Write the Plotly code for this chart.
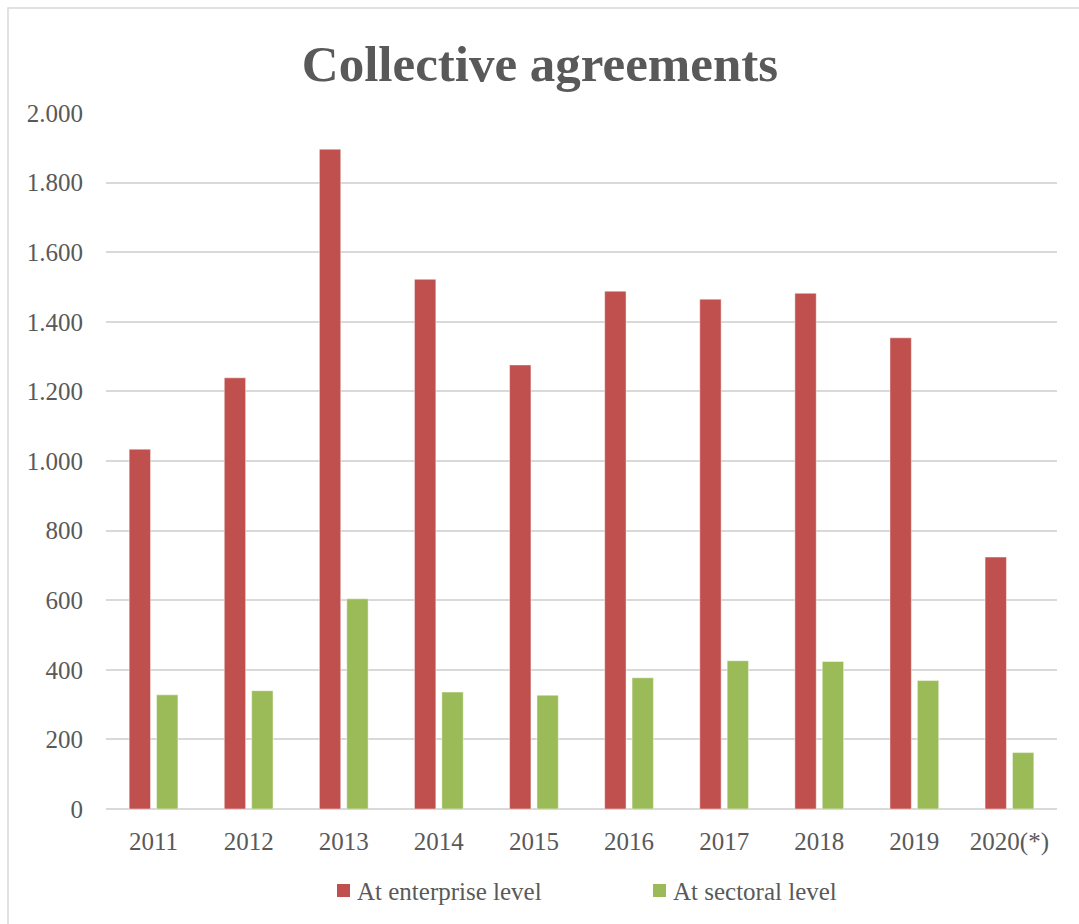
import plotly.graph_objects as go

# Collective agreements registered per year
years = ["2011", "2012", "2013", "2014", "2015", "2016", "2017", "2018", "2019", "2020(*)"]
enterprise_level = [1034, 1239, 1896, 1522, 1276, 1488, 1465, 1482, 1354, 724]
sectoral_level = [328, 340, 604, 336, 327, 377, 426, 424, 369, 162]
y_ticks = [0, 200, 400, 600, 800, 1000, 1200, 1400, 1600, 1800, 2000]
series_names = ["At enterprise level", "At sectoral level"]

RED = "#C0504D"
GREEN = "#9BBB59"
TEXT = "#595959"
GRID = "#D9D9D9"
FONT = "Liberation Serif, serif"

W, H = 1079, 924
L, R, T, B = 106, 22, 113, 115
plot_w = W - L - R
plot_h = H - T - B


def px_x(px):
    return (px - L) / plot_w


def px_y(py):
    return (H - B - py) / plot_h


fig = go.Figure()
for name, vals, col in zip(series_names, [enterprise_level, sectoral_level], [RED, GREEN]):
    fig.add_trace(go.Bar(
        x=years, y=vals, name=name, showlegend=False,
        marker=dict(color=col, line=dict(color="rgba(255,255,255,0.45)", width=1)),
    ))

# Legend drawn below the axis: a square swatch followed closely by its label
legend_x = [337, 653]
shapes = [dict(
    type="rect", xref="paper", yref="paper",
    x0=px_x(8), x1=px_x(W + 20), y0=px_y(H + 20), y1=px_y(8),
    line=dict(color="#D9D9D9", width=1.5), fillcolor="rgba(0,0,0,0)",
    layer="below",
)]
annotations = []
for name, col, lx in zip(series_names, [RED, GREEN], legend_x):
    shapes.append(dict(
        type="rect", xref="paper", yref="paper",
        x0=px_x(lx), x1=px_x(lx + 13), y0=px_y(897), y1=px_y(884),
        line=dict(width=0), fillcolor=col,
    ))
    annotations.append(dict(
        text=name, xref="paper", yref="paper",
        x=px_x(lx + 18), xanchor="left", y=px_y(891), yanchor="middle",
        showarrow=False, font=dict(family=FONT, size=25, color=TEXT),
    ))

fig.update_layout(
    width=W, height=H,
    margin=dict(l=L, r=R, t=T, b=B),
    paper_bgcolor="white", plot_bgcolor="white",
    barmode="group", bargap=0.424, bargroupgap=0.22,
    separators=",.",
    font=dict(family=FONT, size=25, color=TEXT),
    showlegend=False,
    title=dict(
        text="<b>Collective agreements</b>",
        font=dict(family=FONT, size=51, color=TEXT),
        xref="paper", x=px_x(540), xanchor="center",
        yref="container", y=1 - 63 / H, yanchor="middle",
    ),
    xaxis=dict(
        showgrid=False, showline=False, ticks="",
        tickfont=dict(family=FONT, size=25, color=TEXT),
        ticklabelstandoff=15,
    ),
    yaxis=dict(
        range=[0, 2000], tickvals=y_ticks, tickformat=",d",
        showgrid=True, gridcolor=GRID, gridwidth=1.5,
        zeroline=True, zerolinecolor=GRID, zerolinewidth=1.5,
        showline=False, ticks="",
        tickfont=dict(family=FONT, size=25, color=TEXT),
        ticklabelstandoff=22,
    ),
    shapes=shapes,
    annotations=annotations,
)

fig.write_html("out.html")
